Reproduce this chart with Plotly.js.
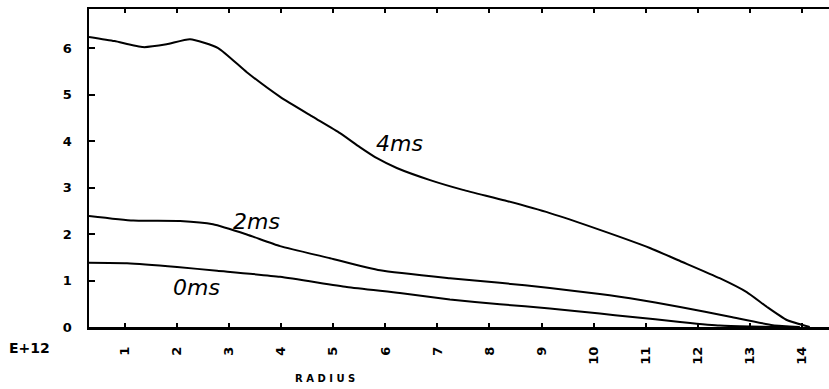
<!DOCTYPE html>
<html><head><meta charset="utf-8">
<script src="https://cdn.plot.ly/plotly-3.0.1.min.js"></script>
<style>html,body{margin:0;padding:0;background:#fff}#chart{width:829px;height:389px}</style>
</head><body><div id="chart"></div>
<script>
// Radius values and profiles (units of 1E+12)
const r4 = [0.31, 0.8, 1.35, 1.8, 2.25, 2.79, 3.34, 3.98, 4.61, 5.13, 5.51, 5.84, 6.22, 6.86, 7.49, 8.3, 9.16, 10.12, 11.08, 11.66, 12.42, 12.94, 13.33, 13.71, 14.15];
const v4 = [6.24, 6.15, 6.02, 6.08, 6.19, 6.0, 5.48, 4.95, 4.52, 4.17, 3.87, 3.63, 3.42, 3.16, 2.95, 2.72, 2.45, 2.09, 1.70, 1.42, 1.05, 0.75, 0.43, 0.15, 0.0];
const r2 = [0.31, 1.16, 2.06, 2.69, 3.34, 3.98, 4.94, 5.9, 7.24, 8.2, 9.16, 10.12, 10.7, 11.66, 12.62, 13.44, 13.96];
const v2 = [2.39, 2.29, 2.28, 2.21, 1.99, 1.74, 1.48, 1.22, 1.05, 0.95, 0.84, 0.71, 0.62, 0.43, 0.22, 0.04, 0.0];
const r0 = [0.31, 1.04, 2.0, 2.77, 3.98, 5.26, 6.28, 7.24, 8.2, 9.16, 10.12, 10.7, 11.66, 12.42, 13.0, 13.8];
const v0 = [1.38, 1.37, 1.29, 1.21, 1.08, 0.86, 0.73, 0.59, 0.49, 0.40, 0.29, 0.22, 0.11, 0.03, 0.01, 0.0];
const xTicks = [1,2,3,4,5,6,7,8,9,10,11,12,13,14];
const yTicks = [0,1,2,3,4,5,6];
const curveLabels = ["4ms", "2ms", "0ms"];
const labelPos = [[6.28, 3.94], [3.52, 2.28], [2.38, 0.84]];

const line = {color:'#000', width:2, shape:'spline', smoothing:0.5};
const traces = [
  {x:r4, y:v4, mode:'lines', line, name:curveLabels[0], hoverinfo:'x+y'},
  {x:r2, y:v2, mode:'lines', line, name:curveLabels[1], hoverinfo:'x+y'},
  {x:r0, y:v0, mode:'lines', line, name:curveLabels[2], hoverinfo:'x+y'}
];
const boldFont = (s)=>({family:'DejaVu Sans', size:s, color:'#000', weight:'bold'});
const layout = {
  width:829, height:389,
  margin:{l:89, r:0, t:9, b:62},
  paper_bgcolor:'#fff', plot_bgcolor:'#fff',
  showlegend:false,
  xaxis:{
    range:[0.31, 14.52], tickvals:xTicks, ticktext:xTicks.map(String),
    tickangle:-90, ticks:'inside', ticklen:4, tickwidth:2, tickcolor:'#000',
    showline:true, linecolor:'#000', linewidth:2.5, mirror:'ticks',
    showgrid:false, zeroline:false, tickfont:boldFont(13), ticklabelstandoff:12
  },
  yaxis:{
    range:[0, 6.84], tickvals:yTicks, ticktext:yTicks.map(String),
    ticks:'inside', ticklen:6, tickwidth:2, tickcolor:'#000',
    showline:true, linecolor:'#000', linewidth:2.5,
    showgrid:false, zeroline:false, tickfont:boldFont(13),
    ticklabelstandoff:12
  },
  annotations:[
    {xref:'paper', yref:'paper', x:-0.08, y:-0.066, xanchor:'center', yanchor:'middle',
     text:'E+12', showarrow:false, font:boldFont(14)},
    {xref:'paper', yref:'paper', x:(325-89)/740, y:-(378-327)/318, xanchor:'center', yanchor:'middle',
     text:'R A D I U S', showarrow:false, font:boldFont(10)},
    ...curveLabels.map((t,i)=>({x:labelPos[i][0], y:labelPos[i][1], text:t, showarrow:false,
      font:{family:'DejaVu Sans', size:22, color:'#000', style:'italic'}}))
  ]
};
Plotly.newPlot('chart', traces, layout, {staticPlot:true});
</script></body></html>
